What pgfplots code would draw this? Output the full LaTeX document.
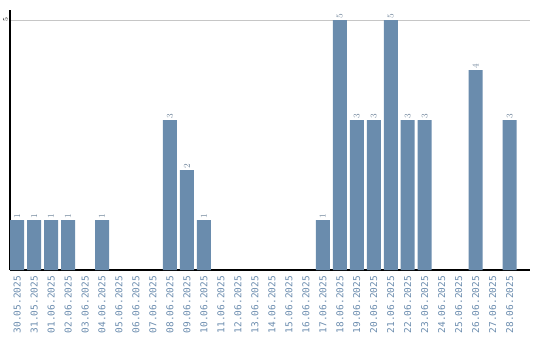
\documentclass[border=0pt]{standalone}
\usepackage{fontspec}
\setmainfont{DejaVu Sans Mono}
\usepackage{pgfplots}
\pgfplotsset{compat=1.18}
\definecolor{barc}{HTML}{6A8CAD}
\definecolor{labc}{HTML}{6B8CAE}
\definecolor{valc}{HTML}{6F849A}
\begin{document}
\begin{tikzpicture}[x=1bp,y=1bp]
\useasboundingbox (0,0) rectangle (540,340);
\begin{axis}[
  at={(10bp,70bp)}, anchor=south west,
  scale only axis, width=520bp, height=260bp,
  xmin=-0.42, xmax=30.2, ymin=0, ymax=5.2,
  axis x line=bottom, axis y line=left,
  axis line style={-, black, line width=1.2pt},
  xtick={0,...,29},
  xticklabels={30.05.2025,31.05.2025,01.06.2025,02.06.2025,03.06.2025,04.06.2025,05.06.2025,06.06.2025,07.06.2025,08.06.2025,09.06.2025,10.06.2025,11.06.2025,12.06.2025,13.06.2025,14.06.2025,15.06.2025,16.06.2025,17.06.2025,18.06.2025,19.06.2025,20.06.2025,21.06.2025,22.06.2025,23.06.2025,24.06.2025,25.06.2025,26.06.2025,27.06.2025,28.06.2025},
  x tick label style={rotate=90, anchor=east, font=\fontsize{9.5}{10}\selectfont, text=labc, inner sep=1pt},
  xticklabel shift=5bp,
  ytick={5},
  y tick label style={rotate=90, anchor=south, font=\fontsize{7}{8}\selectfont, text=black, inner sep=0pt},
  yticklabel shift=2bp,
  major tick length=0pt,
  ymajorgrids, grid style={gray!45, line width=0.8pt},
  ybar, bar width=14bp, bar shift=0pt,
  nodes near coords,
  every node near coord/.append style={rotate=90, anchor=west, font=\fontsize{9.5}{10}\selectfont, text=valc, inner sep=1pt},
  clip=false,
]
\addplot[fill=barc, draw=none] coordinates {
(0,1) (1,1) (2,1) (3,1) (5,1) (9,3) (10,2) (11,1) (18,1) (19,5) (20,3) (21,3) (22,5) (23,3) (24,3) (27,4) (29,3)
};
\end{axis}
\end{tikzpicture}
\end{document}
